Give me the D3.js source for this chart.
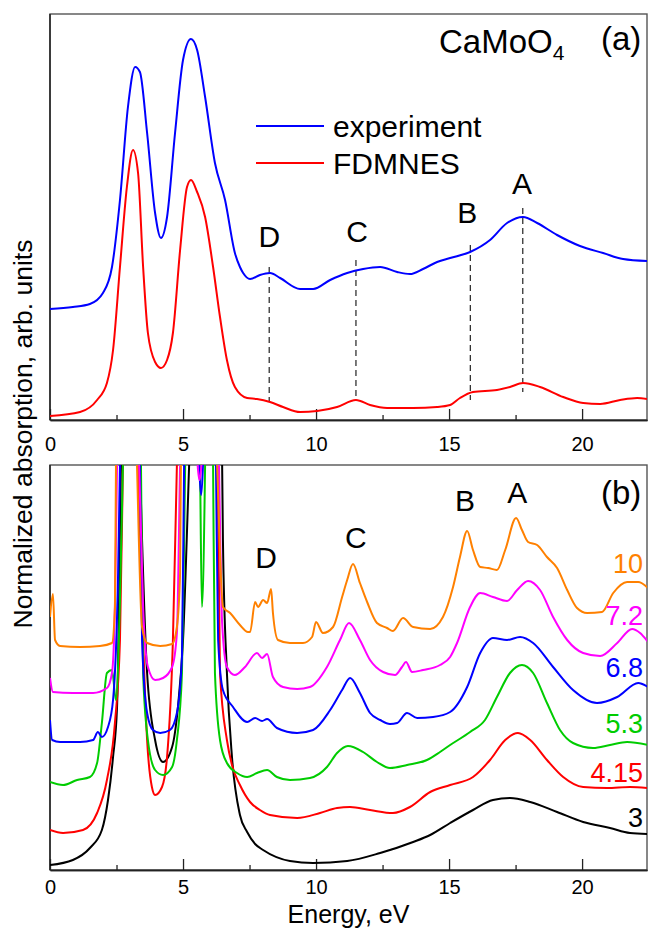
<!DOCTYPE html>
<html><head><meta charset="utf-8">
<script src="https://cdn.jsdelivr.net/npm/d3@7"></script>
<style>body{margin:0;background:#fff}svg{display:block}text{font-family:"Liberation Sans",Arial,sans-serif;fill:#000}</style>
</head><body><svg id="c" width="648" height="929"></svg>
<script>
// ---------- Panel (a): CaMoO4 experiment vs FDMNES ----------
const expE = [0,0.86,1.5,1.99,2.33,2.63,2.93,3.2,3.38,3.65,3.95,4.17,4.4,4.7,5.0,5.3,5.53,5.83,6.2,6.58,6.95,7.14,7.26,7.52,7.89,8.27,8.65,9.4,9.89,10.53,11.17,11.77,12.41,13.05,13.53,14.02,14.55,15.04,15.79,16.54,17.18,17.78,18.31,19.06,19.92,20.79,21.54,22.44];
const expV = [111,113,116,127,153,220,313,353,348,287,207,182,203,287,360,381,370,323,257,220,167,153,147,141,145,147,142,131,131,140,147,151,153,148,146,151,158,162,168,180,197,203,197,185,174,167,161,159];
const fdE = [0,1.13,1.77,2.14,2.37,2.63,2.89,3.12,3.31,3.5,3.68,3.95,4.17,4.4,4.62,4.89,5.15,5.3,5.53,5.83,6.13,6.39,6.65,6.95,7.41,7.78,8.27,8.76,9.4,10.04,10.79,11.5,12.03,12.67,13.65,14.55,15.04,15.41,15.9,16.8,17.29,17.78,18.42,19.29,20.04,20.68,21.43,22.07,22.44];
const fdV = [4,8,20,37,70,153,233,270,247,153,87,58,52,60,87,170,233,240,228,203,153,103,60,33,22,21,18,13,8,9,13,20,15,12,12,13,15,22,28,30,33,37,33,23,17,16,20,22,21];
const legendNames = ["experiment","FDMNES"];
const legendColors = ["#0000ff","#ff0000"];
// peak markers in (a): energy, top value, bottom value, label value
const featNames = ["D","C","B","A"];
const featE_a = [8.24,11.5,15.8,17.77];
const featTop_a = [153,160,175,212];
const featBot_a = [18,20,20,28];
const featLabE_a = [8.24,11.54,15.68,17.74];
const featLabV_a = [173,178,197,226];

// ---------- Panel (b): series ----------
const bNames = ["3","4.15","5.3","6.8","7.2","10"];
const bColors = ["#000000","#ff0000","#00cc00","#0000ff","#ff00ff","#ff8000"];
const b3E = [0,0.86,1.5,1.95,2.18,2.37,2.52,2.67,3.0,3.38,3.46,3.65,3.95,4.25,4.59,4.81,5.0,5.23,5.8,6.47,6.5,6.65,6.84,7.14,7.41,7.71,8.01,9.02,9.89,11.17,12.41,13.65,14.29,15.04,15.9,16.65,17.29,18.05,19.06,20.04,21.05,21.8,22.48];
const b3V = [5,10,22,40,70,113,163,405,900,405,330,197,130,108,123,163,230,405,900,405,330,197,113,55,38,26,20,9,7,9,17,28,35,47,60,70,72,68,58,48,42,37,36];
const b4E = [0,0.49,1.24,1.77,2.14,2.44,2.63,2.74,3.0,3.31,3.46,3.65,3.83,3.95,4.21,4.4,4.62,4.77,5.5,6.3,6.39,6.65,6.84,7.14,7.52,7.89,8.27,9.29,10.15,10.79,11.28,12.03,12.89,13.53,14.29,15.04,15.9,16.54,17.11,17.59,18.05,18.68,19.29,20.04,20.94,21.8,22.48];
const b4V = [40,37,40,57,90,147,230,405,900,405,263,130,83,75,83,113,230,405,900,405,197,130,105,85,68,60,55,52,57,62,63,60,57,63,78,85,93,110,130,137,130,110,93,83,82,83,82];
const b5E = [0,0.49,1.02,1.5,1.77,1.95,2.14,2.33,2.48,2.63,2.74,3.1,3.42,3.5,3.68,3.95,4.25,4.59,4.77,4.96,5.08,5.4,5.64,5.71,5.83,6.0,6.13,6.2,6.39,6.65,7.03,7.41,7.78,8.16,8.53,9.02,9.77,10.41,10.79,11.2,11.77,12.29,12.78,13.42,14.17,14.66,15.04,15.79,16.35,16.8,17.29,17.74,18.16,18.68,19.17,19.66,20.41,21.05,21.69,22.48];
const b5V = [88,85,90,93,107,147,197,200,170,270,405,900,405,197,130,100,95,103,130,197,405,900,405,263,405,900,405,197,130,107,97,93,97,100,93,90,92,103,117,124,118,108,102,105,110,118,125,138,150,173,197,205,197,167,140,127,122,125,128,125];
const b6E = [0,0.08,0.38,1.13,1.62,1.8,1.95,2.18,2.37,2.56,2.63,3.0,3.38,3.46,3.65,3.87,4.14,4.51,4.77,4.96,5.04,5.4,5.61,5.68,5.75,6.0,6.24,6.32,6.5,6.88,7.41,7.71,7.97,8.16,8.53,9.29,9.89,10.53,10.98,11.28,11.65,12.03,12.41,12.78,13.05,13.42,13.8,14.4,15.04,15.68,16.17,16.65,17.18,17.67,18.16,18.91,19.66,20.56,21.32,22.11,22.48];
const b6V = [150,130,128,128,130,138,133,143,170,297,405,900,405,230,157,140,137,140,157,213,405,900,405,375,405,900,405,230,180,163,148,152,149,151,142,137,140,160,180,192,177,157,150,146,147,157,152,153,158,183,217,232,230,233,227,203,180,167,173,187,183];
const b7E = [0,0.11,0.86,1.62,2.14,2.33,2.44,2.52,3.0,3.35,3.5,3.68,3.95,4.25,4.59,4.77,4.89,5.3,5.55,5.62,5.69,6.0,6.35,6.47,6.65,6.95,7.33,7.78,7.97,8.16,8.38,8.76,9.29,9.77,10.41,10.9,11.24,11.65,12.03,12.52,12.97,13.23,13.38,13.61,14.02,14.66,15.04,15.3,15.79,16.17,16.65,17.18,17.56,17.97,18.42,18.91,19.44,20.04,20.68,21.32,21.88,22.18,22.48];
const b7V = [192,178,177,177,182,197,263,405,900,405,263,203,190,192,203,237,405,900,405,390,405,900,405,247,203,195,203,217,212,216,193,183,181,183,203,230,247,230,210,198,195,203,208,198,200,205,213,227,263,277,273,269,280,289,280,253,230,217,214,227,241,237,228];
const b10E = [0,0.11,0.19,0.38,1.13,1.88,2.33,2.44,2.48,2.9,3.27,3.46,3.65,4.14,4.59,4.77,4.89,4.92,5.6,6.28,6.5,6.77,7.14,7.44,7.52,7.71,7.82,8.01,8.16,8.31,8.38,8.57,9.02,9.51,9.85,10.0,10.26,10.64,10.98,11.17,11.39,11.65,11.92,12.29,12.67,12.89,13.27,13.65,14.29,14.77,15.15,15.41,15.68,15.9,16.17,16.47,16.8,17.11,17.52,17.74,17.97,18.31,18.68,19.06,19.44,19.81,20.19,20.75,21.17,21.69,22.11,22.48];
const b10V = [253,276,230,224,223,224,227,263,405,900,405,243,227,224,226,243,297,405,900,405,263,257,245,238,238,268,263,270,267,281,257,230,227,227,233,248,237,243,273,290,306,287,268,247,242,239,252,243,241,253,283,313,339,320,303,302,300,320,352,340,328,325,313,302,280,262,257,258,277,288,288,282];
const bSeriesE = [b3E,b4E,b5E,b6E,b7E,b10E];
const bSeriesV = [b3V,b4V,b5V,b6V,b7V,b10V];
const bLabelV = [43,88,137,193,245,297];
const featLabE_b = [8.12,11.5,15.6,17.56];
const featLabV_b = [302,322,359,367];

const majorTicks = [0,5,10,15,20];
const minorTicks = [2.5,7.5,12.5,17.5];

// ---------- drawing ----------
const svg = d3.select("#c");
const L = 50, R = 647;
const x = d3.scaleLinear().domain([0, 22.44]).range([L, R]);
const yA = d3.scaleLinear().domain([0, 406]).range([420, 14]);
const yB = d3.scaleLinear().domain([0, 405]).range([870, 465]);
const zip = (E, V) => E.slice(0, Math.min(E.length, V.length)).map((e, i) => [e, V[i]]);

const defs = svg.append("defs");
defs.append("clipPath").attr("id","clipA").append("rect")
  .attr("x", L).attr("y", yA.range()[1]).attr("width", R-L).attr("height", yA.range()[0]-yA.range()[1]);
defs.append("clipPath").attr("id","clipB").append("rect")
  .attr("x", L).attr("y", yB.range()[1]).attr("width", R-L).attr("height", yB.range()[0]-yB.range()[1]);

function frame(y){
  svg.append("rect").attr("x", L).attr("y", y.range()[1]).attr("width", R-L)
    .attr("height", y.range()[0]-y.range()[1]).attr("fill","none").attr("stroke","#555").attr("stroke-width",1.4);
  svg.append("line").attr("x1",L).attr("x2",L).attr("y1",y.range()[1]).attr("y2",y.range()[0])
    .attr("stroke","#222").attr("stroke-width",1.5);
}
function xAxis(y, labelBase){
  const g = svg.append("g").attr("transform", `translate(0,${y.range()[0]})`);
  g.call(d3.axisBottom(x).tickValues(majorTicks).tickSize(-11).tickSizeOuter(0).tickFormat(d3.format("d")));
  g.append("g").call(d3.axisBottom(x).tickValues(minorTicks).tickSize(-5).tickSizeOuter(0).tickFormat(""));
  g.selectAll(".domain").attr("stroke","#222").attr("stroke-width",1.5);
  g.selectAll(".tick line").attr("stroke","#222").attr("stroke-width",1.3);
  g.selectAll("text").attr("y", labelBase).attr("dy", null)
    .style("font-size","20px").style("font-family",'"Liberation Sans",Arial,sans-serif').attr("fill","#000");
}

frame(yA); frame(yB);
xAxis(yA, 31); xAxis(yB, 24);

const lineA = d3.line().x(d => x(d[0])).y(d => yA(d[1])).curve(d3.curveMonotoneX);
const lineB = d3.line().x(d => x(d[0])).y(d => yB(d[1])).curve(d3.curveMonotoneX);

// panel a dashed feature lines
const gA = svg.append("g").attr("clip-path","url(#clipA)");
featNames.forEach((n,i) => {
  gA.append("line").attr("x1", x(featE_a[i])).attr("x2", x(featE_a[i]))
    .attr("y1", yA(featTop_a[i])).attr("y2", yA(featBot_a[i]))
    .attr("stroke","#333").attr("stroke-width",1.3).attr("stroke-dasharray","6,4");
});
gA.append("path").datum(zip(fdE, fdV)).attr("d", lineA).attr("fill","none").attr("stroke",legendColors[1]).attr("stroke-width",2);
gA.append("path").datum(zip(expE, expV)).attr("d", lineA).attr("fill","none").attr("stroke",legendColors[0]).attr("stroke-width",2);

// panel b curves
const gB = svg.append("g").attr("clip-path","url(#clipB)");
bNames.forEach((n,i) => {
  gB.append("path").datum(zip(bSeriesE[i], bSeriesV[i])).attr("d", lineB)
    .attr("fill","none").attr("stroke", bColors[i]).attr("stroke-width",2);
});

// feature letters
featNames.forEach((n,i) => {
  svg.append("text").attr("x", x(featLabE_a[i])).attr("y", yA(featLabV_a[i])).attr("text-anchor","middle")
    .style("font-size","30px").text(n);
  svg.append("text").attr("x", x(featLabE_b[i])).attr("y", yB(featLabV_b[i])).attr("text-anchor","middle")
    .style("font-size","30px").text(n);
});

// right-side labels in b
bNames.forEach((n,i) => {
  svg.append("text").attr("x", 643).attr("y", yB(bLabelV[i])).attr("text-anchor","end")
    .style("font-size","27px").style("fill", bColors[i]).text(n);
});

// legend in a
legendNames.forEach((n,i) => {
  const yy = 126 + i*37;
  svg.append("line").attr("x1",256).attr("x2",324).attr("y1",yy).attr("y2",yy)
    .attr("stroke",legendColors[i]).attr("stroke-width",2);
  svg.append("text").attr("x",333).attr("y",yy+11).style("font-size","30px").text(n);
});

// title and panel labels
const t = svg.append("text").attr("x",439).attr("y",53).style("font-size","33px");
t.append("tspan").text("CaMoO");
t.append("tspan").attr("dy",7).style("font-size","21px").text("4");
svg.append("text").attr("x",601).attr("y",50).style("font-size","33px").text("(a)");
svg.append("text").attr("x",601).attr("y",504).style("font-size","33px").text("(b)");

// axis titles
svg.append("text").attr("x",(L+R)/2).attr("y",923).attr("text-anchor","middle").style("font-size","25px").text("Energy, eV");
svg.append("text").attr("transform","translate(32,434) rotate(-90)").attr("text-anchor","middle")
  .style("font-size","26.5px").text("Normalized absorption, arb. units");
</script></body></html>
